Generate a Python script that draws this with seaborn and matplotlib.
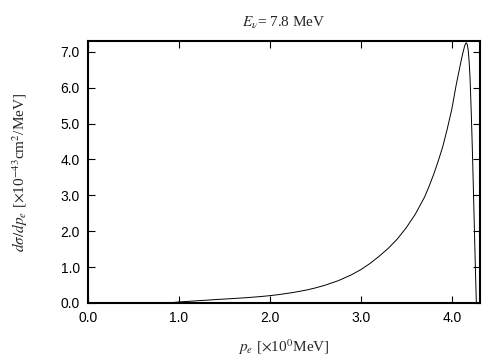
import numpy as np
import pandas as pd
import matplotlib
matplotlib.use("Agg")
import matplotlib.pyplot as plt
import seaborn as sns

# значения
p_e = [0.85, 0.9, 1.0, 1.1, 1.25, 1.4, 1.5, 1.6, 1.75, 1.9, 2.0, 2.1, 2.25,
       2.4, 2.5, 2.6, 2.75, 2.9, 3.0, 3.1, 3.2, 3.3, 3.4, 3.5, 3.6, 3.7, 3.75,
       3.8, 3.85, 3.9, 3.95, 4.0, 4.05, 4.1, 4.12, 4.14, 4.15, 4.16, 4.17,
       4.18, 4.19, 4.2, 4.21, 4.22, 4.23, 4.24, 4.25, 4.26, 4.27]
dsigma = [0.0, 0.005, 0.03, 0.045, 0.07, 0.095, 0.11, 0.125, 0.15, 0.18, 0.205,
          0.235, 0.29, 0.36, 0.42, 0.49, 0.62, 0.79, 0.93, 1.1, 1.3, 1.52, 1.78,
          2.1, 2.48, 2.95, 3.25, 3.58, 3.95, 4.35, 4.85, 5.4, 6.1, 6.72, 6.95,
          7.15, 7.22, 7.25, 7.2, 7.05, 6.75, 6.3, 5.6, 4.8, 3.9, 2.9, 1.9,
          0.9, 0.0]
x_ticks = [0, 1, 2, 3, 4]
y_ticks = [0, 1, 2, 3, 4, 5, 6, 7]

df = pd.DataFrame({"p": p_e, "s": dsigma})

sns.set_style("ticks")
plt.rcParams["font.family"] = ["Liberation Sans", "DejaVu Sans"]
plt.rcParams["mathtext.fontset"] = "stix"

fig = plt.figure(figsize=(5.04, 3.6), dpi=100)
ax = fig.add_axes([88 / 504, 57 / 360, 392 / 504, 262 / 360])

sns.lineplot(data=df, x="p", y="s", ax=ax, color="black", linewidth=0.7, sort=False)

ax.set_xlim(0, 4.31)
ax.set_ylim(0, 7.3)
ax.set_xticks(x_ticks)
ax.set_xticklabels([f"{v:.1f}" for v in x_ticks])
ax.set_yticks(y_ticks)
ax.set_yticklabels([f"{v:.1f}" for v in y_ticks])
ax.tick_params(direction="in", top=True, right=True, length=5, width=0.8,
               labelsize=10, pad=6, colors="black")
for sp in ax.spines.values():
    sp.set_linewidth(1.5)
    sp.set_color("black")

serif = {"family": "Liberation Serif", "size": 11}
ax.set_xlabel(r"$p_e$ [$\times$10$^0$MeV]", fontdict=serif, labelpad=9)
ax.set_ylabel(r"$d\sigma/dp_e$ [$\times$10$^{-43}$cm$^2$/MeV]", fontdict=serif, labelpad=22)
ax.set_title(r"$E_\nu$= 7.8 MeV", fontdict=serif, pad=10)

fig.savefig("out.png", dpi=100)
